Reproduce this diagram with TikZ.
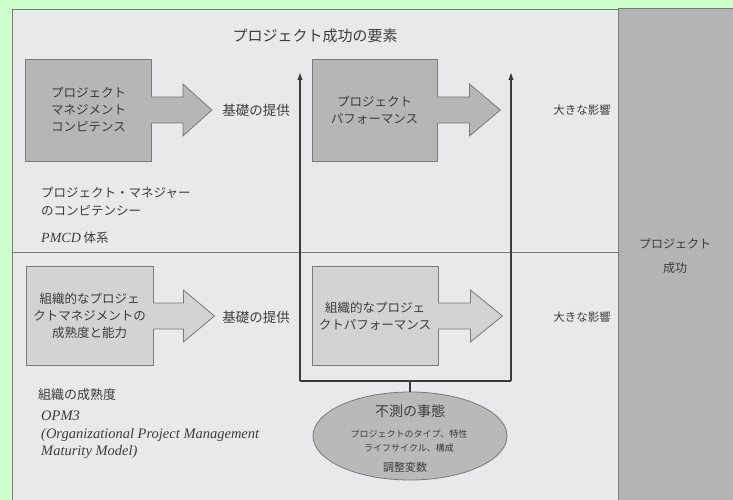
\documentclass[tikz,border=0pt]{standalone}
\usepackage{fontspec}
\setmainfont{Liberation Serif}
\newfontfamily\jp{Noto Sans CJK JP}
\usetikzlibrary{arrows.meta,calc,shapes.geometric}
\definecolor{bggreen}{HTML}{CCFFCC}
\definecolor{panelc}{HTML}{E9E9EC}
\definecolor{rightc}{HTML}{B4B4B6}
\definecolor{topfill}{HTML}{B6B6B6}
\definecolor{lowfill}{HTML}{D3D3D5}
\definecolor{ellfill}{HTML}{B9B9B9}
\definecolor{edgec}{HTML}{7A7A7A}
\definecolor{linec}{HTML}{3A3A3A}
\definecolor{txtc}{HTML}{3C3C3C}
\newcommand\fatarrowX[4]{%
  \fill[#2] ($(#1.east)+(-1.5,-13)$) -- ++(#3+1.5,0) -- ++(0,-13) -- ++(#4,26) -- ++(-#4,26) -- ++(0,-13) -- ($(#1.east)+(-1.5,13)$) -- cycle;
  \draw[edgec,line width=0.8pt,line join=miter] ($(#1.east)+(0,-13)$) -- ++(#3,0) -- ++(0,-13) -- ++(#4,26) -- ++(-#4,26) -- ++(0,-13) -- ($(#1.east)+(0,13)$);
}
\begin{document}
\begin{tikzpicture}[x=1pt,y=-1pt,
  txt/.style={text=txtc,inner sep=0pt,font=\jp\fontsize{12.5}{17}\selectfont,align=center},
  topbox/.style={txt,rectangle,fill=topfill,draw=edgec,line width=0.8pt},
  lowbox/.style={txt,rectangle,fill=lowfill,draw=edgec,line width=0.8pt},
  frame/.style={linec,line width=1.3pt},
  tip/.style={-{Latex[length=8pt,width=5.5pt]}}]
\useasboundingbox (0,0) rectangle (733,500);
\fill[bggreen] (0,0) rectangle (733,500);
\filldraw[fill=panelc,draw=edgec,line width=0.8pt] (12,9) rectangle (618,505);
\filldraw[fill=rightc,draw=edgec,line width=1pt] (618,9) rectangle (740,505);
\draw[edgec,line width=0.9pt] (12,252) -- (618,252);

% title
\node[txt,font=\jp\fontsize{15}{18}\selectfont] (title) at (315,36) {プロジェクト成功の要素};

% frame connectors
\coordinate (fl) at (300,381);
\coordinate (fr) at (511,381);
\coordinate (tl) at (300,72);
\coordinate (tr) at (511,72);
\draw[frame,tip] (fl) -- (tl);
\draw[frame,tip] (fr) -- (tr);
\draw[frame] (fl) -- (fr);

% top row
\node[topbox,minimum width=126pt,minimum height=102pt] (b1) at (88.5,110) {プロジェクト\\マネジメント\\コンピテンス};
\fatarrowX{b1}{topfill}{31}{29}
\node[topbox,minimum width=125pt,minimum height=102pt] (b2) at (374.5,110) {プロジェクト\\パフォーマンス};
\fatarrowX{b2}{topfill}{32}{31}
\node[txt,font=\jp\fontsize{13.5}{16}\selectfont] (f1) at (256,110) {基礎の提供};
\node[txt,font=\jp\fontsize{11.5}{16}\selectfont] (i1) at (582,110) {大きな影響};

% bottom row
\node[lowbox,minimum width=127pt,minimum height=99pt] (c1) at (89.5,316) {組織的なプロジェ\\クトマネジメントの\\成熟度と能力};
\fatarrowX{c1}{lowfill}{30}{31}
\node[lowbox,minimum width=126pt,minimum height=99pt] (c2) at (375,316) {組織的なプロジェ\\クトパフォーマンス};
\fatarrowX{c2}{lowfill}{32}{32}
\node[txt,font=\jp\fontsize{13.5}{16}\selectfont] (f2) at (256,317) {基礎の提供};
\node[txt,font=\jp\fontsize{11.5}{16}\selectfont] (i2) at (582,317) {大きな影響};

% left labels
\node[txt,anchor=west,align=left] (pm1) at (41,193) {プロジェクト・マネジャー};
\node[txt,anchor=west,align=left] (pm2) at (41,211) {のコンピテンシー};
\node[txt,anchor=west,align=left] (pmcd) at (41,238) {{\rmfamily\itshape\fontsize{14}{16}\selectfont PMCD} 体系};
\node[txt,anchor=west,align=left,font=\jp\fontsize{13}{16}\selectfont] (om) at (38,395) {組織の成熟度};
\node[txt,anchor=north west,align=left,font=\rmfamily\itshape\fontsize{14.5}{17.5}\selectfont] (opm) at (41,411) {OPM3\\(Organizational Project Management\\Maturity Model)};

% ellipse
\node[ellipse,fill=ellfill,draw=edgec,line width=0.8pt,minimum width=194pt,minimum height=88pt,inner sep=0pt] (ell) at (410,436) {};
\draw[frame] (ell.north) -- (ell.north |- fl);
\node[txt,font=\jp\fontsize{14}{16}\selectfont] (e1) at (410,411) {不測の事態};
\node[txt,font=\jp\fontsize{9}{13.5}\selectfont] (e2) at (409,441) {プロジェクトのタイプ、特性\\ライフサイクル、構成};
\node[txt,font=\jp\fontsize{11}{13}\selectfont] (e3) at (405,467) {調整変数};

% right column
\node[txt,font=\jp\fontsize{12}{24}\selectfont] (succ) at (675,256) {プロジェクト\\成功};
\end{tikzpicture}
\end{document}
